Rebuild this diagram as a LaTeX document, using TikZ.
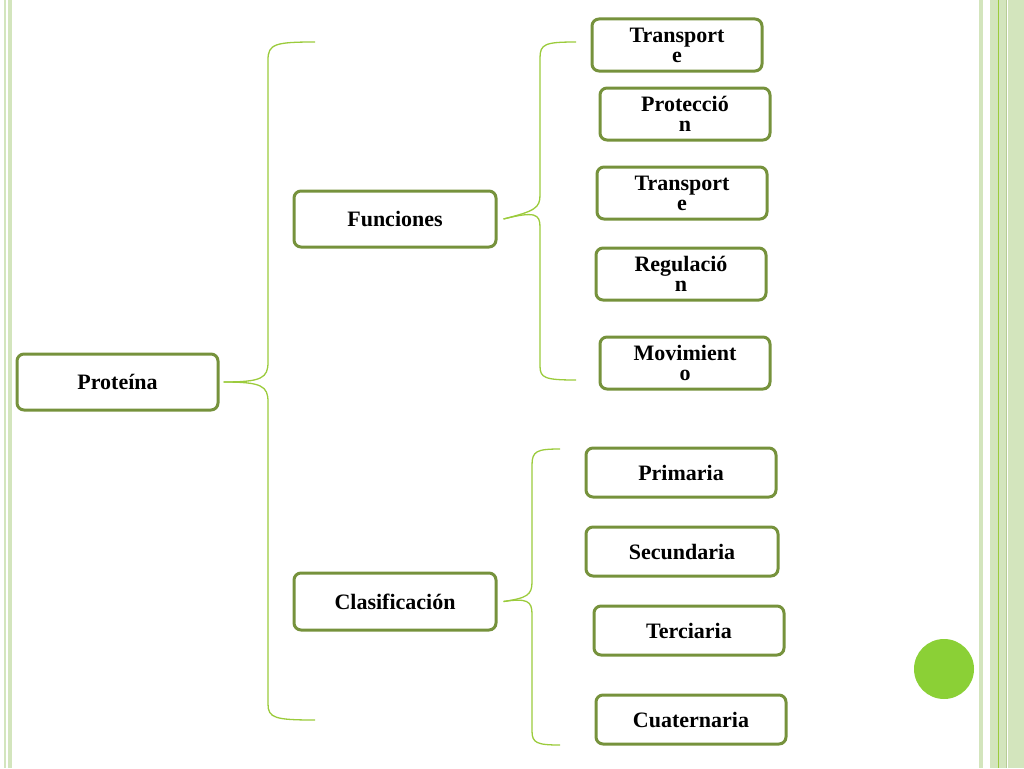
\documentclass[tikz,border=0pt]{standalone}
\usepackage{fontspec}
\setmainfont{Liberation Serif}
\begin{document}
\begin{tikzpicture}[x=1pt,y=-1pt,
 box/.style={draw=boxc,line width=3pt,rounded corners=7pt,fill=white,font=\fontsize{22}{20}\selectfont\bfseries,align=center,inner sep=0pt},
 brace/.style={draw=brc,line width=1.3pt}]
\definecolor{boxc}{HTML}{76923C}
\definecolor{brc}{HTML}{9BCB3C}
\definecolor{stripe}{HTML}{D3E5BD}
\useasboundingbox (0,0) rectangle (1024,768);
\fill[stripe] (4,0) rectangle (6,768);
\fill[stripe] (8,0) rectangle (12,768);
\fill[stripe] (979,0) rectangle (983,768);
\fill[stripe] (990,0) rectangle (1024,768);
\fill[white] (1006,0) rectangle (1008,768);
\draw[brc,line width=0.8pt] (998,0) -- (998,768);
\fill[stripe!70!boxc] (1006,0) rectangle (1007,768);
\fill[brc!90!green] (944,669) circle (30);
\newcommand{\bx}[6]{\node[box,minimum width=#4-#2,minimum height=#5-#3] (#1) at ({(#2+#4)/2},{(#3+#5)/2}) {#6};}
\bx{prot}{17}{354}{218}{410}{Proteína}
\bx{fun}{294}{191}{496}{247}{Funciones}
\bx{cla}{294}{573}{496}{630}{Clasificación}
\bx{t1}{592}{19}{762}{71}{Transport\\e}
\bx{pr}{600}{88}{770}{140}{Protecció\\n}
\bx{t2}{597}{167}{767}{219}{Transport\\e}
\bx{re}{596}{248}{766}{300}{Regulació\\n}
\bx{mo}{600}{337}{770}{389}{Movimient\\o}
\bx{p1}{586}{448}{776}{497}{Primaria}
\bx{p2}{586}{527}{778}{576}{Secundaria}
\bx{p3}{594}{606}{784}{655}{Terciaria}
\bx{p4}{596}{695}{786}{744}{Cuaternaria}
% braces
\draw[brace] (315,42) .. controls (275,42) and (268,44) .. (268,60) -- (268,362) .. controls (268,378) and (262,382) .. ([xshift=4pt]prot.east);
\draw[brace] ([xshift=4pt]prot.east) .. controls (262,382) and (268,386) .. (268,402) -- (268,704) .. controls (268,718) and (275,720) .. (315,720);
\draw[brace] (576,42) .. controls (545,42) and (540,44) .. (540,58) -- (540,195) .. controls (540,208) and (535,211) .. ([xshift=6pt]fun.east);
\draw[brace] ([xshift=6pt]fun.east) .. controls (535,211) and (540,214) .. (540,227) -- (540,366) .. controls (540,378) and (545,380) .. (576,380);
\draw[brace] (560,449) .. controls (537,449) and (532,451) .. (532,465) -- (532,582) .. controls (532,595) and (527,598) .. ([xshift=6pt]cla.east);
\draw[brace] ([xshift=6pt]cla.east) .. controls (527,598) and (532,601) .. (532,614) -- (532,731) .. controls (532,743) and (537,745) .. (560,745);
\end{tikzpicture}
\end{document}
